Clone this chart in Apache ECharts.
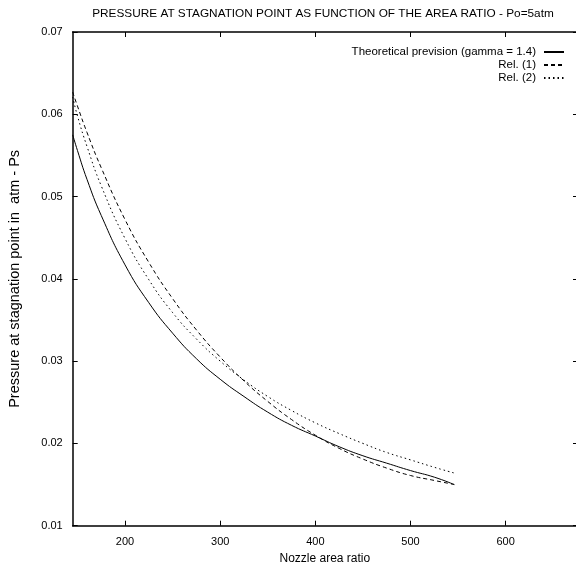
<!DOCTYPE html>
<html>
<head>
<meta charset="utf-8">
<script src="https://cdn.jsdelivr.net/npm/echarts@6/dist/echarts.min.js"></script>
<style>html,body{margin:0;padding:0;background:#fff}#c{width:576px;height:565px}</style>
</head>
<body>
<div id="c"></div>
<script>
const titleText = "PRESSURE AT STAGNATION POINT AS FUNCTION OF THE AREA RATIO - Po=5atm";
const xName = "Nozzle area ratio";
const yName = "Pressure at stagnation point in  atm - Ps";
const seriesNames = ["Theoretical prevision (gamma = 1.4)", "Rel. (1)", "Rel. (2)"];
const areaRatio = [145, 150, 160, 175, 200, 225, 250, 275, 300, 325, 350, 375, 400, 425, 450, 475, 500, 525, 546];
const theoretical = [0.0575, 0.0556, 0.0521, 0.0477, 0.0417, 0.0371, 0.0334, 0.0303, 0.0278, 0.0257, 0.0238, 0.0222, 0.0209, 0.0196, 0.0185, 0.0176, 0.0167, 0.0159, 0.0150];
const rel1 = [0.0627, 0.0610, 0.0578, 0.0535, 0.0472, 0.0420, 0.0376, 0.0338, 0.0305, 0.0276, 0.0251, 0.0229, 0.0210, 0.0194, 0.0181, 0.0170, 0.0161, 0.0155, 0.0150];
const rel2 = [0.0621, 0.0598, 0.0561, 0.0513, 0.0449, 0.0399, 0.0359, 0.0327, 0.0300, 0.0277, 0.0257, 0.0240, 0.0225, 0.0212, 0.0200, 0.0189, 0.0180, 0.0171, 0.0164];
const xTicks = [200, 300, 400, 500, 600];
const yTicks = [0.01, 0.02, 0.03, 0.04, 0.05, 0.06, 0.07];

const font = "'Liberation Sans', Arial, sans-serif";
const chart = echarts.init(document.getElementById('c'));
const pair = (xs, ys) => xs.map((x, i) => [x, ys[i]]);
const dashTypes = ['solid', [4, 3], [1.5, 3]];
const dataSets = [theoretical, rel1, rel2];
const axisLine = { show: true, onZero: false, lineStyle: { color: '#000', width: 1.5 } };
chart.setOption({
  animation: false,
  title: {
    text: titleText, left: 318, top: 3, textAlign: 'center',
    textStyle: { fontFamily: font, fontSize: 11.8, fontWeight: 'normal', color: '#000' }
  },
  legend: {
    orient: 'vertical', right: 6, top: 41, align: 'right', itemGap: 1,
    itemWidth: 20, itemHeight: 11,
    itemStyle: { opacity: 0 },
    textStyle: { fontFamily: font, fontSize: 11.5, color: '#000', padding: [0, 3, 0, 0] },
    data: seriesNames
  },
  grid: { left: 72.7, right: -1, top: 32, bottom: 39.3, containLabel: false, outerBoundsMode: 'none' },
  xAxis: [{
    type: 'value', min: 145, max: 675,
    name: xName, nameLocation: 'middle', nameGap: 27,
    nameTextStyle: { fontFamily: font, fontSize: 12, color: '#000' },
    axisLine: axisLine,
    axisTick: { show: true, inside: true, length: 5, customValues: xTicks, lineStyle: { color: '#000' } },
    axisLabel: { customValues: xTicks, fontFamily: font, fontSize: 11, color: '#000', margin: 11 },
    splitLine: { show: false }
  }, {
    type: 'value', min: 145, max: 675, position: 'top',
    axisLine: axisLine,
    axisTick: { show: true, inside: true, length: 5, customValues: xTicks, lineStyle: { color: '#000' } },
    axisLabel: { show: false }, splitLine: { show: false }
  }],
  yAxis: [{
    type: 'value', min: 0.01, max: 0.07,
    name: yName, nameLocation: 'middle', nameGap: 50, nameRotate: 90,
    nameTextStyle: { fontFamily: font, fontSize: 14.5, color: '#000' },
    axisLine: axisLine,
    axisTick: { show: true, inside: true, length: 5, customValues: yTicks, lineStyle: { color: '#000' } },
    axisLabel: { customValues: yTicks, fontFamily: font, fontSize: 11, color: '#000', margin: 10,
      formatter: v => v.toFixed(2) },
    splitLine: { show: false }
  }, {
    type: 'value', min: 0.01, max: 0.07, position: 'right',
    axisLine: axisLine,
    axisTick: { show: true, inside: true, length: 4, customValues: yTicks, lineStyle: { color: '#000' } },
    axisLabel: { show: false }, splitLine: { show: false }
  }],
  series: seriesNames.map((n, i) => ({
    name: n, type: 'line', smooth: true, showSymbol: false, symbol: 'none',
    data: pair(areaRatio, dataSets[i]),
    lineStyle: { color: '#000', width: 1, type: dashTypes[i] },
    itemStyle: { color: '#000' }
  }))
});
</script>
</body>
</html>
